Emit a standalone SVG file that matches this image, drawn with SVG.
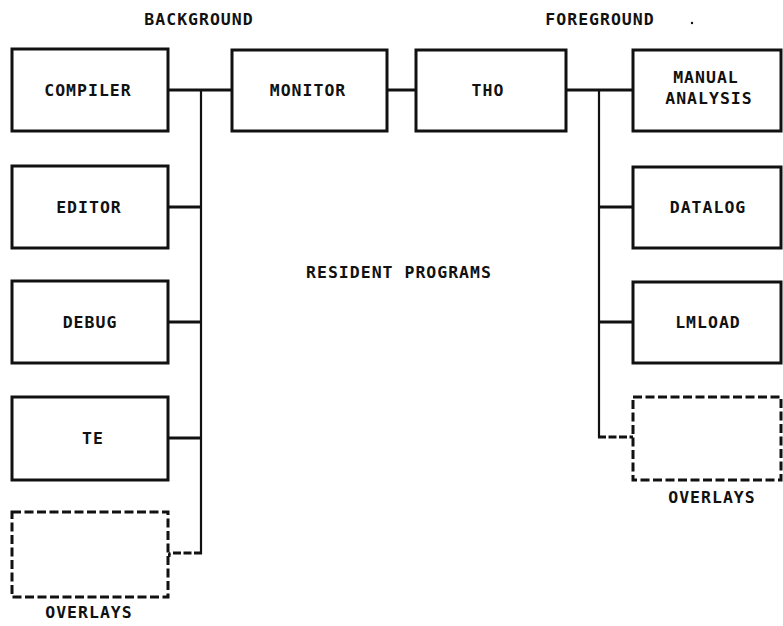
<svg xmlns="http://www.w3.org/2000/svg" width="783" height="626" viewBox="0 0 783 626">
<style>
  .box { fill: #fff; stroke: #111; stroke-width: 3; }
  .dbox { fill: #fff; stroke: #111; stroke-width: 3; stroke-dasharray: 9 3.5; }
  .wire { stroke: #111; stroke-width: 3; fill: none; }
  .vwire { stroke: #111; stroke-width: 2.2; fill: none; }
  .dwire { stroke: #111; stroke-width: 3; fill: none; stroke-dasharray: 8 2.5; }
  text { font-family: "DejaVu Sans Mono", "Liberation Mono", monospace; font-weight: bold; font-size: 16.5px; fill: #111; text-anchor: middle; dominant-baseline: central; letter-spacing: 1px; }
</style>
<rect width="783" height="626" fill="#fff"/>

<g id="labels">
  <text x="199" y="19">BACKGROUND</text>
  <text x="600" y="19">FOREGROUND</text>
  <circle cx="692" cy="23" r="1.2" fill="#111"/>
  <text x="399" y="272">RESIDENT PROGRAMS</text>
</g>

<g id="connectors">
  <line class="wire" x1="168" y1="90" x2="232" y2="90"/>
  <line class="wire" x1="387" y1="90" x2="416" y2="90"/>
  <line class="wire" x1="566" y1="90" x2="633" y2="90"/>
  <line class="vwire" x1="201" y1="90" x2="201" y2="554"/>
  <line class="wire" x1="168" y1="207" x2="202" y2="207"/>
  <line class="wire" x1="168" y1="322" x2="202" y2="322"/>
  <line class="wire" x1="168" y1="438" x2="202" y2="438"/>
  <path class="dwire" d="M202,553 H171 Q169,553 169,557"/>
  <line class="vwire" x1="599" y1="90" x2="599" y2="438"/>
  <line class="wire" x1="598" y1="207" x2="633" y2="207"/>
  <line class="wire" x1="598" y1="322" x2="633" y2="322"/>
  <path class="dwire" d="M598,437 H633"/>
</g>

<g id="compiler">
  <rect class="box" x="12" y="49" width="156" height="82"/>
  <text x="88" y="90">COMPILER</text>
</g>
<g id="monitor">
  <rect class="box" x="232" y="50" width="155" height="81"/>
  <text x="308" y="90">MONITOR</text>
</g>
<g id="tho">
  <rect class="box" x="416" y="50" width="150" height="81"/>
  <text x="488" y="90">THO</text>
</g>
<g id="manual-analysis">
  <rect class="box" x="633" y="50" width="148" height="81"/>
  <text x="706" y="77">MANUAL</text>
  <text x="709" y="98">ANALYSIS</text>
</g>
<g id="editor">
  <rect class="box" x="12" y="166" width="156" height="82"/>
  <text x="89" y="207">EDITOR</text>
</g>
<g id="debug">
  <rect class="box" x="12" y="281" width="156" height="82"/>
  <text x="90" y="322">DEBUG</text>
</g>
<g id="te">
  <rect class="box" x="12" y="397" width="156" height="83"/>
  <text x="93" y="438">TE</text>
</g>
<g id="overlays-left">
  <rect class="dbox" x="12" y="512" width="156" height="85"/>
  <text x="89" y="612">OVERLAYS</text>
</g>
<g id="datalog">
  <rect class="box" x="633" y="167" width="148" height="81"/>
  <text x="708" y="207">DATALOG</text>
</g>
<g id="lmload">
  <rect class="box" x="633" y="282" width="148" height="81"/>
  <text x="708" y="322">LMLOAD</text>
</g>
<g id="overlays-right">
  <rect class="dbox" x="633" y="397" width="148" height="83"/>
  <text x="712" y="497">OVERLAYS</text>
</g>
</svg>
